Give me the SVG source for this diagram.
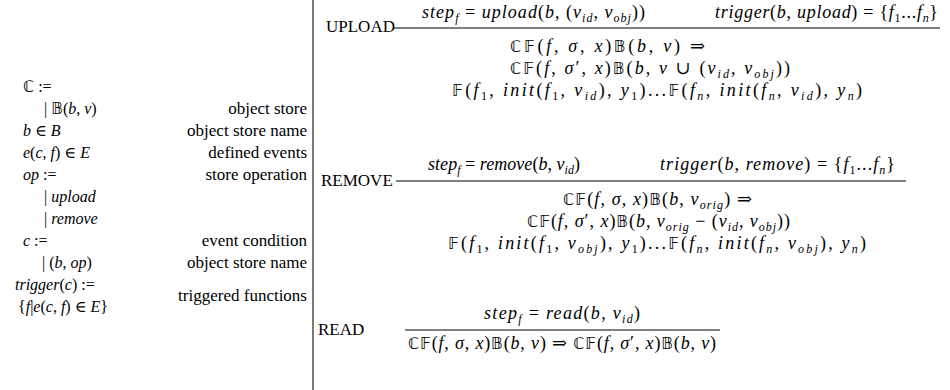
<svg xmlns="http://www.w3.org/2000/svg" width="950" height="390" viewBox="0 0 950 390">
<style>
.t{font-family:"Liberation Serif","DejaVu Serif",serif;font-size:17px;fill:#000}
.g{font-size:16px}
.m{font-size:18px}
.i{font-style:italic}
.s{font-size:12px}
.bb{font-family:"DejaVu Sans","Noto Sans",sans-serif;font-size:16px}
.r{text-anchor:end}
.rule{stroke:#000;stroke-width:1.1}
</style>
<rect width="950" height="390" fill="#fff"/>
<line x1="313" y1="0" x2="313" y2="390" stroke="#333" stroke-width="1.3"/>
<g id="grammar">
<text class="t g" x="23" y="92"><tspan class="bb">ℂ</tspan> :=</text>
<text class="t g" x="44" y="114">| <tspan class="bb">𝔹</tspan>(<tspan class="i">b</tspan>, <tspan class="i">v</tspan>)</text>
<text class="t r" x="307" y="114">object store</text>
<text class="t g" x="23" y="136"><tspan class="i">b</tspan> ∈ <tspan class="i">B</tspan></text>
<text class="t r" x="307" y="136">object store name</text>
<text class="t g" x="23" y="158"><tspan class="i">e</tspan>(<tspan class="i">c</tspan>, <tspan class="i">f</tspan>) ∈ <tspan class="i">E</tspan></text>
<text class="t r" x="307" y="158">defined events</text>
<text class="t g" x="23" y="180"><tspan class="i">op</tspan> :=</text>
<text class="t r" x="307" y="180">store operation</text>
<text class="t g" x="44" y="202">| <tspan class="i">upload</tspan></text>
<text class="t g" x="44" y="224">| <tspan class="i">remove</tspan></text>
<text class="t g" x="23" y="246"><tspan class="i">c</tspan> :=</text>
<text class="t r" x="307" y="246">event condition</text>
<text class="t g" x="42" y="268">| (<tspan class="i">b</tspan>, <tspan class="i">op</tspan>)</text>
<text class="t r" x="307" y="268">object store name</text>
<text class="t g" x="15" y="290"><tspan class="i">trigger</tspan>(<tspan class="i">c</tspan>) :=</text>
<text class="t g" x="18" y="312">{<tspan class="i">f</tspan>|<tspan class="i">e</tspan>(<tspan class="i">c</tspan>, <tspan class="i">f</tspan>) ∈ <tspan class="i">E</tspan>}</text>
<text class="t r" x="307" y="301">triggered functions</text>
</g>
<g id="upload">
<text class="t" x="326" y="32">UPLOAD</text>
<line class="rule" x1="394" y1="28" x2="940" y2="28"/>
<text class="t m" x="422" y="18" textLength="223" lengthAdjust="spacing"><tspan class="i">step</tspan><tspan class="s i" dy="3.5">f</tspan><tspan dy="-3.5"> = </tspan><tspan class="i">upload</tspan>(<tspan class="i">b</tspan>, (<tspan class="i">v</tspan><tspan class="s i" dy="3.5">id</tspan><tspan dy="-3.5">, </tspan><tspan class="i">v</tspan><tspan class="s i" dy="3.5">obj</tspan><tspan dy="-3.5">))</tspan></text>
<text class="t m" x="715" y="18" textLength="223" lengthAdjust="spacing"><tspan class="i">trigger</tspan>(<tspan class="i">b</tspan>, <tspan class="i">upload</tspan>) = {<tspan class="i">f</tspan><tspan class="s" dy="3.5">1</tspan><tspan dy="-3.5">...</tspan><tspan class="i">f</tspan><tspan class="s i" dy="3.5">n</tspan><tspan dy="-3.5">}</tspan></text>
<text class="t m" x="510" y="52" textLength="195" lengthAdjust="spacing"><tspan class="bb">ℂ𝔽</tspan>(<tspan class="i">f</tspan>, <tspan class="i">σ</tspan>, <tspan class="i">x</tspan>)<tspan class="bb">𝔹</tspan>(<tspan class="i">b</tspan>, <tspan class="i">v</tspan>) ⇒</text>
<text class="t m" x="510" y="74" textLength="280" lengthAdjust="spacing"><tspan class="bb">ℂ𝔽</tspan>(<tspan class="i">f</tspan>, <tspan class="i">σ</tspan>′, <tspan class="i">x</tspan>)<tspan class="bb">𝔹</tspan>(<tspan class="i">b</tspan>, <tspan class="i">v</tspan> ∪ (<tspan class="i">v</tspan><tspan class="s i" dy="3.5">id</tspan><tspan dy="-3.5">, </tspan><tspan class="i">v</tspan><tspan class="s i" dy="3.5">obj</tspan><tspan dy="-3.5">))</tspan></text>
<text class="t m" x="452" y="96" textLength="410" lengthAdjust="spacing"><tspan class="bb">𝔽</tspan>(<tspan class="i">f</tspan><tspan class="s" dy="3.5">1</tspan><tspan dy="-3.5">, </tspan><tspan class="i">init</tspan>(<tspan class="i">f</tspan><tspan class="s" dy="3.5">1</tspan><tspan dy="-3.5">, </tspan><tspan class="i">v</tspan><tspan class="s i" dy="3.5">id</tspan><tspan dy="-3.5">), </tspan><tspan class="i">y</tspan><tspan class="s" dy="3.5">1</tspan><tspan dy="-3.5">)...</tspan><tspan class="bb">𝔽</tspan>(<tspan class="i">f</tspan><tspan class="s i" dy="3.5">n</tspan><tspan dy="-3.5">, </tspan><tspan class="i">init</tspan>(<tspan class="i">f</tspan><tspan class="s i" dy="3.5">n</tspan><tspan dy="-3.5">, </tspan><tspan class="i">v</tspan><tspan class="s i" dy="3.5">id</tspan><tspan dy="-3.5">), </tspan><tspan class="i">y</tspan><tspan class="s i" dy="3.5">n</tspan><tspan dy="-3.5">)</tspan></text>
</g>
<g id="remove">
<text class="t" x="321" y="186">REMOVE</text>
<line class="rule" x1="396" y1="181" x2="906" y2="181"/>
<text class="t m" x="428" y="170" textLength="152" lengthAdjust="spacing"><tspan class="i">step</tspan><tspan class="s i" dy="3.5">f</tspan><tspan dy="-3.5"> = </tspan><tspan class="i">remove</tspan>(<tspan class="i">b</tspan>, <tspan class="i">v</tspan><tspan class="s i" dy="3.5">id</tspan><tspan dy="-3.5">)</tspan></text>
<text class="t m" x="660" y="170" textLength="235" lengthAdjust="spacing"><tspan class="i">trigger</tspan>(<tspan class="i">b</tspan>, <tspan class="i">remove</tspan>) = {<tspan class="i">f</tspan><tspan class="s" dy="3.5">1</tspan><tspan dy="-3.5">...</tspan><tspan class="i">f</tspan><tspan class="s i" dy="3.5">n</tspan><tspan dy="-3.5">}</tspan></text>
<text class="t m" x="563" y="205" textLength="189" lengthAdjust="spacing"><tspan class="bb">ℂ𝔽</tspan>(<tspan class="i">f</tspan>, <tspan class="i">σ</tspan>, <tspan class="i">x</tspan>)<tspan class="bb">𝔹</tspan>(<tspan class="i">b</tspan>, <tspan class="i">v</tspan><tspan class="s i" dy="3.5">orig</tspan><tspan dy="-3.5">) ⇒</tspan></text>
<text class="t m" x="527" y="227" textLength="263" lengthAdjust="spacing"><tspan class="bb">ℂ𝔽</tspan>(<tspan class="i">f</tspan>, <tspan class="i">σ</tspan>′, <tspan class="i">x</tspan>)<tspan class="bb">𝔹</tspan>(<tspan class="i">b</tspan>, <tspan class="i">v</tspan><tspan class="s i" dy="3.5">orig</tspan><tspan dy="-3.5"> − (</tspan><tspan class="i">v</tspan><tspan class="s i" dy="3.5">id</tspan><tspan dy="-3.5">, </tspan><tspan class="i">v</tspan><tspan class="s i" dy="3.5">obj</tspan><tspan dy="-3.5">))</tspan></text>
<text class="t m" x="448" y="249" textLength="418" lengthAdjust="spacing"><tspan class="bb">𝔽</tspan>(<tspan class="i">f</tspan><tspan class="s" dy="3.5">1</tspan><tspan dy="-3.5">, </tspan><tspan class="i">init</tspan>(<tspan class="i">f</tspan><tspan class="s" dy="3.5">1</tspan><tspan dy="-3.5">, </tspan><tspan class="i">v</tspan><tspan class="s i" dy="3.5">obj</tspan><tspan dy="-3.5">), </tspan><tspan class="i">y</tspan><tspan class="s" dy="3.5">1</tspan><tspan dy="-3.5">)...</tspan><tspan class="bb">𝔽</tspan>(<tspan class="i">f</tspan><tspan class="s i" dy="3.5">n</tspan><tspan dy="-3.5">, </tspan><tspan class="i">init</tspan>(<tspan class="i">f</tspan><tspan class="s i" dy="3.5">n</tspan><tspan dy="-3.5">, </tspan><tspan class="i">v</tspan><tspan class="s i" dy="3.5">obj</tspan><tspan dy="-3.5">), </tspan><tspan class="i">y</tspan><tspan class="s i" dy="3.5">n</tspan><tspan dy="-3.5">)</tspan></text>
</g>
<g id="read">
<text class="t" x="318" y="335">READ</text>
<line class="rule" x1="405" y1="330" x2="720" y2="330"/>
<text class="t m" x="484" y="319" textLength="156" lengthAdjust="spacing"><tspan class="i">step</tspan><tspan class="s i" dy="3.5">f</tspan><tspan dy="-3.5"> = </tspan><tspan class="i">read</tspan>(<tspan class="i">b</tspan>, <tspan class="i">v</tspan><tspan class="s i" dy="3.5">id</tspan><tspan dy="-3.5">)</tspan></text>
<text class="t m" x="408" y="349" textLength="308" lengthAdjust="spacing"><tspan class="bb">ℂ𝔽</tspan>(<tspan class="i">f</tspan>, <tspan class="i">σ</tspan>, <tspan class="i">x</tspan>)<tspan class="bb">𝔹</tspan>(<tspan class="i">b</tspan>, <tspan class="i">v</tspan>) ⇒ <tspan class="bb">ℂ𝔽</tspan>(<tspan class="i">f</tspan>, <tspan class="i">σ</tspan>′, <tspan class="i">x</tspan>)<tspan class="bb">𝔹</tspan>(<tspan class="i">b</tspan>, <tspan class="i">v</tspan>)</text>
</g>
</svg>
